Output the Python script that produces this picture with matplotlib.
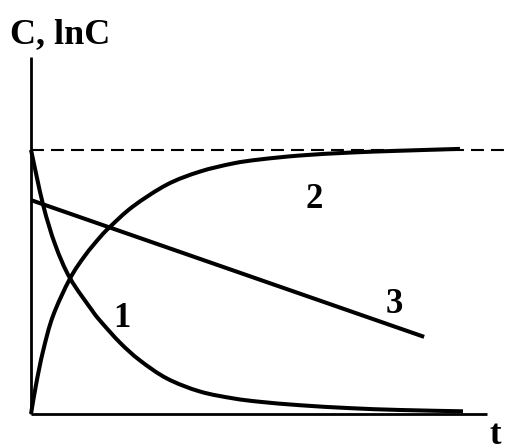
import matplotlib
matplotlib.use("Agg")
import matplotlib.pyplot as plt
from matplotlib.path import Path
from matplotlib.patches import PathPatch

# Curve 1: concentration decay, C(t)
t1 = [0.0, 0.28, 0.56, 0.90, 1.41, 1.60, 2.06, 2.52, 3.15, 3.91, 4.68, 5.30, 6.23, 7.38, 8.54, 10.0]
c1 = [1.0, 0.792, 0.641, 0.515, 0.393, 0.353, 0.270, 0.203, 0.134, 0.085, 0.059, 0.046, 0.033, 0.022, 0.015, 0.010]

# Curve 2: rise to saturation
t2 = [0.0, 0.12, 0.28, 0.51, 0.90, 1.25, 1.60, 1.83, 2.36, 3.15, 3.91, 4.68, 5.30, 6.23, 7.38, 8.54, 9.93]
c2 = [0.0, 0.114, 0.239, 0.372, 0.512, 0.600, 0.670, 0.709, 0.786, 0.869, 0.918, 0.949, 0.964, 0.979, 0.990, 0.997, 1.004]

# Line 3: lnC vs t
t3 = [0.0, 9.10]
c3 = [0.81, 0.292]

# saturation level
c_max = 1.0

labels = ["1", "2", "3"]
label_pos = [(2.11, 0.33), (6.55, 0.78), (8.40, 0.383)]

font = {"family": "Liberation Serif", "weight": "bold", "size": 25}


def smooth_path(xs, ys):
    """Bezier path through every point (Catmull-Rom tangents)."""
    pts = list(zip(xs, ys))
    verts = [pts[0]]
    codes = [Path.MOVETO]
    n = len(pts)
    for i in range(n - 1):
        p0 = pts[i - 1] if i > 0 else pts[i]
        p1 = pts[i]
        p2 = pts[i + 1]
        p3 = pts[i + 2] if i + 2 < n else pts[i + 1]
        c1_ = (p1[0] + (p2[0] - p0[0]) / 6, p1[1] + (p2[1] - p0[1]) / 6)
        c2_ = (p2[0] - (p3[0] - p1[0]) / 6, p2[1] - (p3[1] - p1[1]) / 6)
        verts += [c1_, c2_, p2]
        codes += [Path.CURVE4] * 3
    return Path(verts, codes)


fig = plt.figure(figsize=(5.1, 4.48), dpi=100)
ax = fig.add_axes([0, 0, 1, 1])
ax.set_xlim(-0.718, 11.088)
ax.set_ylim(-0.129, 1.568)
ax.axis("off")

# axes drawn by hand
ax.plot([0, 0], [0, 1.352], color="black", lw=2.0, solid_capstyle="butt")
ax.plot([0, 10.56], [0, 0], color="black", lw=2.0, solid_capstyle="butt")

# dashed saturation line
ax.plot([0, 11.1], [c_max, c_max], color="black", lw=1.5, dashes=(6.2, 3.4))

for xs, ys in [(t1, c1), (t2, c2)]:
    ax.add_patch(PathPatch(smooth_path(xs, ys), fill=False, edgecolor="black",
                           lw=2.9, capstyle="butt", joinstyle="round"))
ax.plot(t3, c3, color="black", lw=2.9, solid_capstyle="butt")

for lab, (x, y) in zip(labels, label_pos):
    ax.text(x, y, lab, ha="center", va="baseline", **font)

ax.text(-0.486, 1.405, "C, lnC", ha="left", va="baseline",
        family="Liberation Serif", weight="bold", size=26)
ax.text(10.74, -0.112, "t", ha="center", va="baseline", **font)

fig.savefig("out.png", dpi=100)
